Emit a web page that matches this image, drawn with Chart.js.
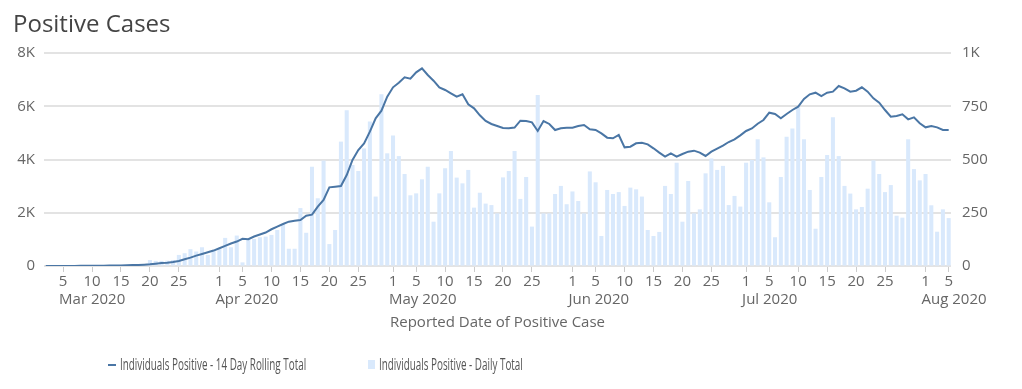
<!DOCTYPE html>
<html>
<head>
<meta charset="utf-8">
<script src="https://cdn.jsdelivr.net/npm/chart.js@4.4.1/dist/chart.umd.min.js"></script>
<style>
  body { margin: 0; background: #fff; font-family: 'Open Sans', sans-serif; }
  #wrap { position: relative; width: 1022px; height: 389px; overflow: hidden; }
  #myChart { position: absolute; left: 0; top: 0; }
  #title { position: absolute; left: 13px; top: 6px; margin: 0; font-size: 24px; font-weight: 400; color: #444; white-space: nowrap; }
  .legText { position: absolute; top: 352px; font-size: 17px; color: #555; white-space: nowrap; transform-origin: left center; transform: scaleX(0.58); }
  .legLine { position: absolute; left: 108px; top: 364px; width: 8px; height: 2px; }
  .legBox { position: absolute; left: 368px; top: 360px; width: 7px; height: 9px; }
</style>
</head>
<body>
<div id="wrap">
  <canvas id="myChart" width="1022" height="389"></canvas>
  <h1 id="title">Positive Cases</h1>
  <div class="legLine" id="legLine"></div>
  <div class="legText" id="legText1" style="left:120px"></div>
  <div class="legBox" id="legBox"></div>
  <div class="legText" id="legText2" style="left:379px"></div>
</div>
<script>
// day offsets count from 1 Mar 2020 (0 = Mar 1), first value is Mar 2
const firstDay = 1;

// daily positives, Mar 2 .. Aug 5
const dailyTotal = [
  0,0,0,0,1,0,1,1,2,1,2,2,3,3,4,5,7,9,
  28,24,24,25,28,52,60,79,68,88,52,72,83,132,88,143,17,126,127,135,138,146,169,
  197,81,81,272,156,466,318,495,103,169,584,731,474,446,552,678,326,806,529,613,
  516,432,332,341,407,466,208,341,459,540,415,388,451,274,344,293,286,247,416,446,540,
  315,418,185,803,247,247,338,376,290,350,305,247,444,393,141,357,338,347,282,368,
  360,326,169,141,160,376,338,485,208,399,247,266,435,505,451,470,286,329,279,485,498,595,
  510,299,135,418,607,646,745,595,357,175,418,521,698,516,376,340,266,277,363,496,
  432,347,380,236,227,595,455,402,432,285,161,266,225
];

// 14 day rolling total, Mar 2 .. Aug 5
const rollingTotal = [
  0,1,1,2,3,4,5,7,9,11,13,16,19,23,28,33,40,50,
  63,88,113,126,151,189,252,315,390,453,516,579,667,755,843,918,1019,1006,1107,1182,1258,1380,1480,
  1577,1665,1703,1728,1890,1928,2228,2479,2955,2980,3005,3418,3981,4357,4607,5046,5546,5834,6360,6711,
  6886,7086,7036,7274,7424,7174,6961,6711,6611,6485,6360,6448,6072,5922,5659,5446,5334,5258,5183,5171,5200,
  5459,5446,5396,5071,5446,5334,5108,5171,5196,5196,5258,5296,5133,5108,4983,4820,4795,4920,4457,4482,
  4607,4632,4570,4420,4257,4107,4232,4107,4207,4294,4332,4257,4132,4294,4407,4520,4657,4758,4908,5071,5165,5345,
  5484,5759,5709,5546,5709,5859,5985,6273,6448,6510,6385,6510,6548,6761,6673,6548,6585,6711,6548,6298,
  6135,5859,5609,5634,5697,5509,5584,5359,5208,5258,5208,5108,5108
];

// labelled ticks on the date axis
const tickDays = [4,9,14,19,24, 31,35,40,45,50,55, 61,65,70,75,80,85, 92,96,101,106,111,116, 122,126,131,136,141,146, 153,157];
const monthTicks = [4, 31, 61, 92, 122, 153];
const monthNames = ['Mar 2020', 'Apr 2020', 'May 2020', 'Jun 2020', 'Jul 2020', 'Aug 2020'];

const leftTicks = [0, 2000, 4000, 6000, 8000];
const rightTicks = [0, 250, 500, 750, 1000];

const lineLabel = 'Individuals Positive - 14 Day Rolling Total';
const barLabel = 'Individuals Positive - Daily Total';
const lineColor = '#4a76a5';
const barColor = '#d9e9fc';
const textColor = '#666';

function dayOfMonth(v) {
  return new Date(Date.UTC(2020, 2, 1 + v)).getUTCDate();
}

document.getElementById('legText1').textContent = lineLabel;
document.getElementById('legText2').textContent = barLabel;
document.getElementById('legLine').style.background = lineColor;
document.getElementById('legBox').style.background = barColor;

const tickFont = { family: 'Open Sans', size: 15 };

const ctx = document.getElementById('myChart');
new Chart(ctx, {
  data: {
    datasets: [
      {
        type: 'line',
        label: lineLabel,
        data: rollingTotal.map((v, i) => ({ x: firstDay + i, y: v })),
        borderColor: lineColor,
        borderWidth: 2,
        pointRadius: 0,
        tension: 0,
        yAxisID: 'y',
        order: 0
      },
      {
        type: 'bar',
        label: barLabel,
        data: dailyTotal.map((v, i) => ({ x: firstDay + i, y: v })),
        backgroundColor: barColor,
        barPercentage: 0.7,
        categoryPercentage: 1,
        yAxisID: 'y1',
        order: 1
      }
    ]
  },
  options: {
    responsive: false,
    animation: false,
    layout: { padding: { top: 53, left: 0, right: 0, bottom: 0 } },
    plugins: { legend: { display: false }, tooltip: { enabled: false } },
    scales: {
      x: {
        type: 'linear',
        position: 'bottom',
        weight: 0,
        offset: false,
        min: 0.7,
        max: 157.4,
        afterBuildTicks: s => { s.ticks = tickDays.map(v => ({ value: v })); },
        afterFit: s => { s.height = 24; },
        ticks: { autoSkip: false, maxRotation: 0, padding: 1, color: textColor, font: tickFont,
                 callback: v => dayOfMonth(v) },
        grid: { drawOnChartArea: false, offset: false, tickLength: 6, color: '#ccc' },
        border: { display: false }
      },
      xMonth: {
        type: 'linear',
        position: 'bottom',
        axis: 'x',
        weight: 1,
        offset: false,
        min: 0.7,
        max: 157.4,
        afterBuildTicks: s => { s.ticks = monthTicks.map(v => ({ value: v })); },
        afterFit: s => { s.height = 99; },
        ticks: { autoSkip: false, maxRotation: 0, padding: 1, align: 'start', labelOffset: -4,
                 color: textColor, font: tickFont,
                 callback: (v, i) => monthNames[i] },
        grid: { display: false, drawTicks: false },
        border: { display: false },
        title: { display: true, text: 'Reported Date of Positive Case', color: textColor,
                 font: { family: 'Open Sans', size: 15 }, padding: { top: 0, bottom: 57 } }
      },
      y: {
        position: 'left',
        min: 0,
        max: 8000,
        afterBuildTicks: s => { s.ticks = leftTicks.map(v => ({ value: v })); },
        afterFit: s => { s.width = 44; },
        ticks: { padding: 9, color: textColor, font: tickFont,
                 callback: v => v === 0 ? '0' : (v / 1000) + 'K' },
        grid: { color: '#e3e3e3', lineWidth: 2, drawTicks: false },
        border: { display: false }
      },
      y1: {
        position: 'right',
        min: 0,
        max: 1000,
        afterBuildTicks: s => { s.ticks = rightTicks.map(v => ({ value: v })); },
        afterFit: s => { s.width = 71; },
        ticks: { padding: 11, color: textColor, font: tickFont,
                 callback: v => v === 1000 ? '1K' : v },
        grid: { drawOnChartArea: false, drawTicks: false },
        border: { display: false }
      }
    }
  }
});
</script>
</body>
</html>
